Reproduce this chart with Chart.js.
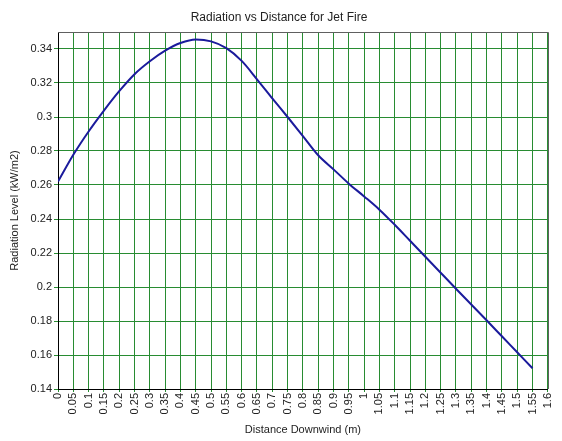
<!DOCTYPE html>
<html lang="en">
<head>
<meta charset="UTF-8" />
<title>Radiation vs Distance for Jet Fire</title>
<style>
  body {
    margin: 0;
    background-color: #ffffff;
  }
  #chart {
    display: block;
  }
</style>
</head>
<body>
<canvas id="chart" width="562" height="441"></canvas>
<script src="https://cdn.jsdelivr.net/npm/chart.js@4.4.0/dist/chart.umd.min.js"></script>
<script>
  // Data
  const distance = [0, 0.05, 0.1, 0.15, 0.2, 0.25, 0.3, 0.35, 0.4, 0.45, 0.5, 0.55, 0.6, 0.65, 0.7, 0.75,
                    0.8, 0.85, 0.9, 0.95, 1.0, 1.05, 1.1, 1.15, 1.2, 1.25, 1.3, 1.35, 1.4, 1.45, 1.5, 1.55];
  const radiation = [0.262, 0.2778, 0.2915, 0.3038, 0.3152, 0.3252, 0.3328, 0.339, 0.3435, 0.3456, 0.3445,
                     0.3405, 0.333, 0.3222, 0.311, 0.300, 0.2888, 0.2775, 0.2692, 0.2608, 0.2533, 0.2455,
                     0.2366, 0.2272, 0.2178, 0.2084, 0.199, 0.1897, 0.1804, 0.171, 0.1616, 0.1522];

  const xMin = 0, xMax = 1.6, xStep = 0.05;
  const yMin = 0.14, yMax = 0.35, yStep = 0.02;

  const textFont = "'Liberation Sans', Arial, sans-serif";
  const gridGreen = 'rgb(40,140,50)';

  // thin frame on top and right of the plot, like the original
  const frame = {
    id: 'frame',
    afterDatasetsDraw(chart) {
      const a = chart.chartArea;
      const c = chart.ctx;
      c.save();
      c.strokeStyle = '#606060';
      c.lineWidth = 1;
      c.beginPath();
      c.moveTo(a.left, Math.round(a.top) + 0.5);
      c.lineTo(Math.round(a.right) + 0.5, Math.round(a.top) + 0.5);
      c.lineTo(Math.round(a.right) + 0.5, a.bottom);
      c.stroke();
      c.restore();
    }
  };

  const points = distance.map((d, i) => ({ x: d, y: radiation[i] }));

  const ctx = document.getElementById('chart').getContext('2d');
  const chart = new Chart(ctx, {
    type: 'line',
    data: {
      datasets: [{
        label: 'Radiation',
        data: points,
        borderColor: '#1b1b9c',
        borderWidth: 2,
        pointRadius: 0,
        cubicInterpolationMode: 'monotone',
        fill: false
      }]
    },
    options: {
      responsive: false,
      animation: false,
      layout: { padding: { left: 0, right: 4, top: 0, bottom: 0 } },
      plugins: {
        legend: { display: false },
        tooltip: { enabled: false },
        title: {
          display: true,
          text: 'Radiation vs Distance for Jet Fire',
          color: '#222',
          font: { family: textFont, size: 12, weight: 'normal', lineHeight: 1.25 },
          padding: { top: 10, bottom: 7 }
        }
      },
      scales: {
        x: {
          type: 'linear',
          min: xMin,
          max: xMax,
          afterFit: s => { s.height = 52; },
          ticks: {
            stepSize: xStep,
            autoSkip: false,
            minRotation: 90,
            maxRotation: 90,
            padding: 1,
            color: '#222',
            font: { family: textFont, size: 11 },
            callback: v => String(+v.toFixed(2))
          },
          grid: { color: gridGreen, lineWidth: 1, tickLength: 3 },
          border: { color: '#000', width: 1 },
          title: {
            display: true,
            text: 'Distance Downwind (m)',
            color: '#222',
            font: { family: textFont, size: 11 },
            padding: { top: 0, bottom: 4 }
          }
        },
        y: {
          type: 'linear',
          min: yMin,
          max: yMax,
          afterFit: s => { s.width = 58; },
          afterBuildTicks: s => { s.ticks = s.ticks.filter(t => t.value < 0.345); },
          ticks: {
            stepSize: yStep,
            padding: 2,
            color: '#222',
            font: { family: textFont, size: 11 },
            callback: v => String(+v.toFixed(2))
          },
          grid: { color: gridGreen, lineWidth: 1, tickLength: 4 },
          border: { color: '#000', width: 1 },
          title: {
            display: true,
            text: 'Radiation Level (kW/m2)',
            color: '#222',
            font: { family: textFont, size: 11 },
            padding: { top: 8, bottom: 0 }
          }
        }
      }
    },
    plugins: [frame]
  });
</script>
</body>
</html>
